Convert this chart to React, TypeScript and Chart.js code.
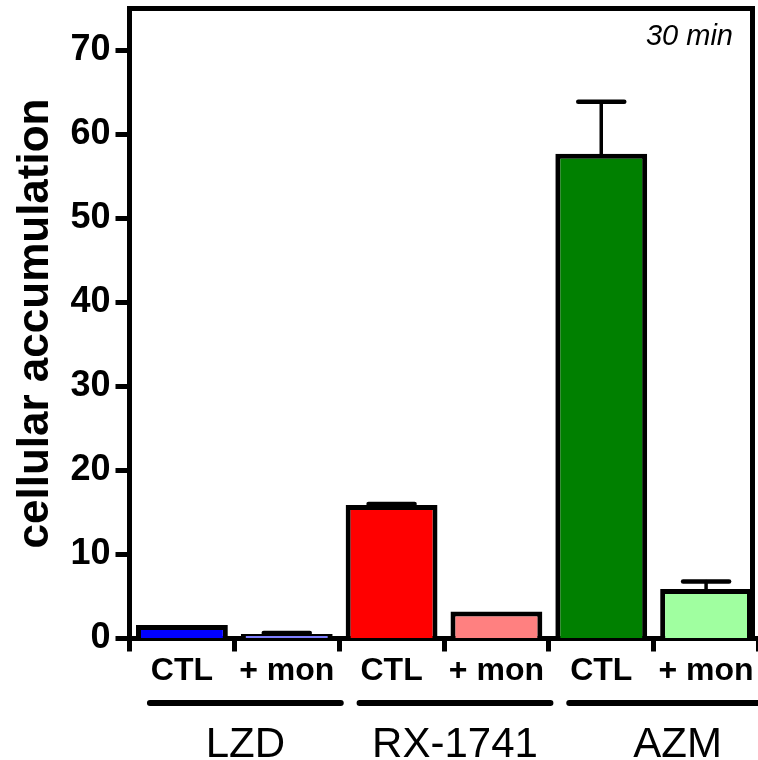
import React, { useEffect, useRef } from "react";
import { Chart, registerables } from "chart.js";

Chart.register(...registerables);

// ---- data ----
const categories = ["CTL", "+ mon", "CTL", "+ mon", "CTL", "+ mon"];
const groups = ["LZD", "RX-1741", "AZM"];
const values = [1.6, 0.55, 15.9, 3.2, 57.7, 5.9];
const errors = [0, 0.1, 0.1, 0, 6.2, 0.9];
const barColors = ["#0000ff", "#8080ff", "#ff0000", "#ff8080", "#008000", "#a0ffa0"];
const yTicks = [0, 10, 20, 30, 40, 50, 60, 70];
const yTitle = "cellular accumulation";
const annotation = "30 min";

const FONT = '"Liberation Sans", Arial, Helvetica, sans-serif';

const extrasPlugin = {
  id: "extras",
  beforeDatasetsDraw(chart: any) {
    const { ctx, chartArea } = chart;
    ctx.save();
    ctx.strokeStyle = "#000";
    ctx.lineWidth = 5;
    ctx.lineCap = "butt";
    ctx.beginPath();
    ctx.moveTo(chartArea.left, chartArea.top);
    ctx.lineTo(chartArea.right - 3.5, chartArea.top);
    ctx.moveTo(chartArea.right - 6, chartArea.top);
    ctx.lineTo(chartArea.right - 6, chartArea.bottom);
    ctx.stroke();
    ctx.restore();
  },
  afterDatasetsDraw(chart: any) {
    const { ctx } = chart;
    const meta = chart.getDatasetMeta(0);
    const y = chart.scales.y;
    ctx.save();
    ctx.strokeStyle = "#000";
    ctx.lineCap = "round";
    meta.data.forEach((bar: any, i: number) => {
      const e = errors[i];
      if (!e) return;
      const x = bar.x;
      const yBase = y.getPixelForValue(values[i]);
      const yTop = y.getPixelForValue(values[i] + e);
      ctx.lineWidth = 3.5;
      ctx.beginPath();
      ctx.moveTo(x, yBase);
      ctx.lineTo(x, yTop);
      ctx.stroke();
      ctx.lineWidth = 4.5;
      ctx.beginPath();
      ctx.moveTo(x - 23, yTop);
      ctx.lineTo(x + 23, yTop);
      ctx.stroke();
    });
    ctx.restore();
  },
  afterDraw(chart: any) {
    const { ctx, chartArea } = chart;
    const xs = chart.scales.x;
    ctx.save();
    // group lines and labels
    const endOffsets = [54, 54, 80];
    groups.forEach((g, gi) => {
      const x0 = xs.getPixelForValue(gi * 2) - 32;
      const x1 = xs.getPixelForValue(gi * 2 + 1) + endOffsets[gi];
      const ly = chartArea.bottom + 64.5;
      ctx.strokeStyle = "#000";
      ctx.lineWidth = 6;
      ctx.lineCap = "round";
      ctx.beginPath();
      ctx.moveTo(x0, ly);
      ctx.lineTo(x1, ly);
      ctx.stroke();
      ctx.fillStyle = "#000";
      ctx.font = `42px ${FONT}`;
      ctx.textAlign = "center";
      ctx.textBaseline = "alphabetic";
      ctx.fillText(g, (x0 + x1) / 2, chartArea.bottom + 118.5);
    });
    // annotation
    ctx.font = `italic 29px ${FONT}`;
    ctx.textAlign = "right";
    ctx.textBaseline = "alphabetic";
    ctx.fillStyle = "#000";
    ctx.fillText(annotation, chartArea.right - 25.5, chartArea.top + 36.5);
    ctx.restore();
  },
};

export default function App() {
  const ref = useRef<HTMLCanvasElement>(null);

  useEffect(() => {
    document.body.style.margin = "0";
    const canvas = ref.current;
    if (!canvas) return;
    Chart.defaults.font.family = FONT;
    const chart = new Chart(canvas, {
      type: "bar",
      data: {
        labels: categories,
        datasets: [
          {
            data: values,
            backgroundColor: barColors,
            borderColor: "#000",
            borderWidth: 5,
            borderSkipped: "start",
            barPercentage: 0.876,
            categoryPercentage: 1,
          },
        ],
      },
      options: {
        animation: false,
        responsive: false,
        devicePixelRatio: 1,
        layout: { padding: { left: 0, right: 3.5, top: 8.5, bottom: 0 } },
        plugins: {
          legend: { display: false },
          tooltip: { enabled: false },
        },
        scales: {
          x: {
            type: "category",
            offset: true,
            z: 1,
            grid: {
              display: true,
              drawOnChartArea: false,
              drawTicks: true,
              tickLength: 13,
              tickWidth: 5,
              color: "#000",
            },
            border: { display: true, width: 5, color: "#000" },
            ticks: {
              color: "#000",
              font: { size: 32, weight: "bold", family: FONT },
              padding: 0,
              autoSkip: false,
              maxRotation: 0,
              minRotation: 0,
            },
            afterFit(scale: any) {
              scale.height = 121.5;
              scale.paddingLeft = 0;
              scale.paddingRight = 0;
              scale.paddingTop = 0;
              scale.paddingBottom = 0;
            },
          },
          y: {
            type: "linear",
            min: 0,
            max: 75,
            z: 1,
            afterBuildTicks(scale: any) {
              scale.ticks = yTicks.map((v) => ({ value: v }));
            },
            grid: {
              display: true,
              drawOnChartArea: false,
              drawTicks: true,
              tickLength: 14,
              tickWidth: 5,
              color: "#000",
            },
            border: { display: true, width: 5, color: "#000" },
            ticks: {
              color: "#000",
              font: { size: 36, weight: "bold", family: FONT },
              padding: 5,
            },
            title: {
              display: true,
              text: yTitle,
              color: "#000",
              font: { size: 44, weight: "bold", family: FONT },
              padding: { top: 9, bottom: 0 },
            },
            afterFit(scale: any) {
              scale.width = 129.5;
              scale.paddingTop = 0;
              scale.paddingBottom = 0;
              scale.paddingLeft = 0;
              scale.paddingRight = 0;
            },
          },
        },
      },
      plugins: [extrasPlugin],
    } as any);
    return () => chart.destroy();
  }, []);

  return (
    <div style={{ width: 758, height: 760, overflow: "hidden" }}>
      <canvas ref={ref} width={762} height={760} style={{ display: "block", width: 762, height: 760 }} />
    </div>
  );
}
